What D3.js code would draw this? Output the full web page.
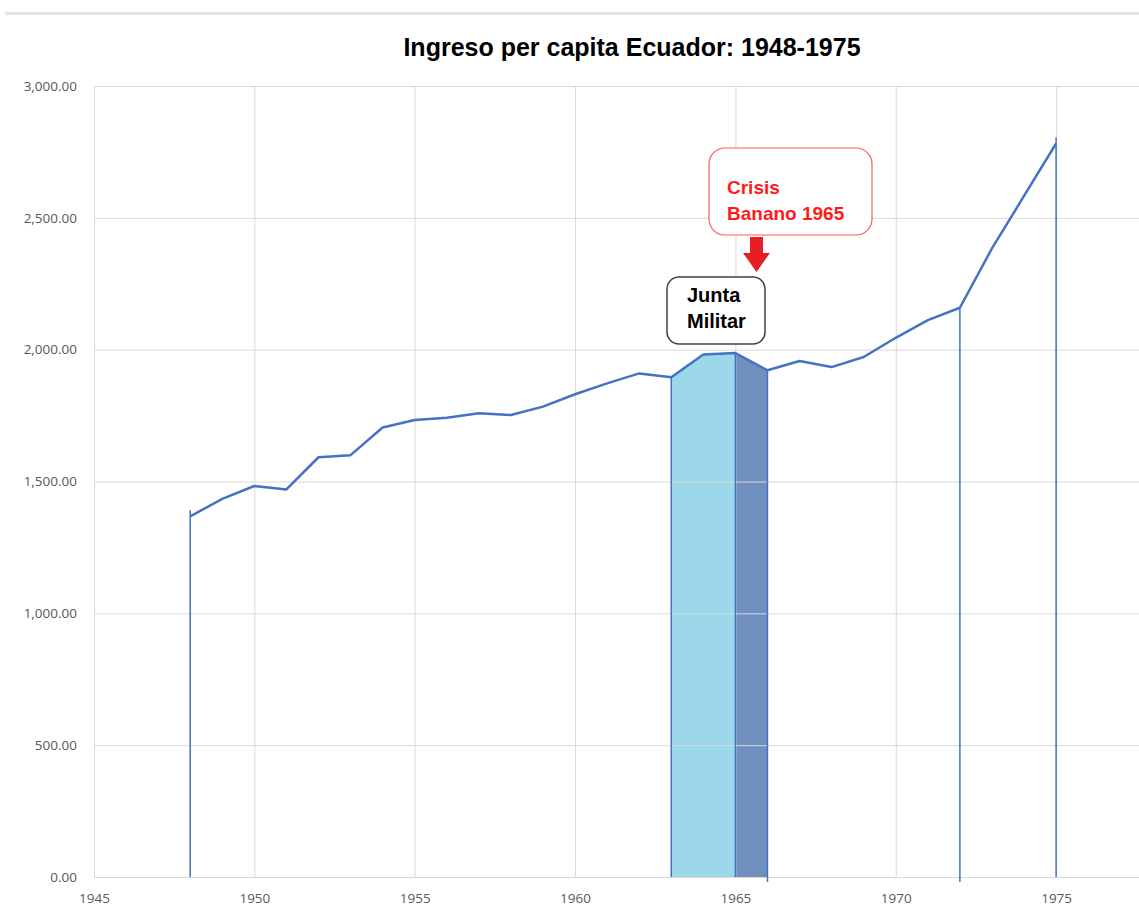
<!DOCTYPE html>
<html>
<head>
<meta charset="utf-8">
<script src="https://cdn.jsdelivr.net/npm/d3@7"></script>
<style>
  body { margin: 0; background: #fff; }
  svg { display: block; }
  .tick text { fill: #595959; font-family: "Open Sans", sans-serif; font-size: 13.5px; }
</style>
</head>
<body>
<div id="chart"></div>
<script>
// data
var years = [1948, 1949, 1950, 1951, 1952, 1953, 1954, 1955, 1956, 1957, 1958, 1959, 1960, 1961,
             1962, 1963, 1964, 1965, 1966, 1967, 1968, 1969, 1970, 1971, 1972, 1973, 1974, 1975];
var ingreso = [1368, 1434, 1483, 1470, 1592, 1600, 1705, 1733, 1742, 1759, 1752, 1784, 1831, 1872,
               1910, 1895, 1982, 1987, 1922, 1957, 1934, 1972, 2045, 2112, 2159, 2384, 2583, 2782];
var yTicks = [0, 500, 1000, 1500, 2000, 2500, 3000];
var xTicks = [1945, 1950, 1955, 1960, 1965, 1970, 1975];
var markerYears = [1948, 1963, 1965, 1966, 1972, 1975];
var juntaRange = [1963, 1965];
var crisisRange = [1965, 1966];

var data = years.map(function(d, i) { return {year: d, value: ingreso[i]}; });

var svgWidth = 1139, svgHeight = 912;
var margin = {top: 86, left: 94, bottom: 35};

var svg = d3.select('#chart').append('svg')
    .attr('width', svgWidth)
    .attr('height', svgHeight);

// scales
var x = d3.scaleLinear().domain([1945, 1980]).range([margin.left, margin.left + 35 * 32.07]);
var y = d3.scaleLinear().domain([0, 3000]).range([svgHeight - margin.bottom, margin.top]);

// thin line on top (window chrome)
svg.append('rect').attr('x', 5).attr('y', 12).attr('width', svgWidth).attr('height', 3).attr('fill', '#e4e4e4');

// title
svg.append('text')
    .attr('x', 632).attr('y', 56)
    .attr('text-anchor', 'middle')
    .attr('font-family', '"Liberation Sans", Arial, sans-serif')
    .attr('font-weight', 'bold')
    .attr('font-size', '25px')
    .attr('fill', '#000')
    .text('Ingreso per capita Ecuador:  1948-1975');

// shaded periods
var area = d3.area()
    .x(d => x(d.year))
    .y0(y(0))
    .y1(d => y(d.value));

svg.append('path')
    .datum(data.filter(d => d.year >= juntaRange[0] && d.year <= juntaRange[1]))
    .attr('d', area)
    .attr('fill', '#9cd8ea');

svg.append('path')
    .datum(data.filter(d => d.year >= crisisRange[0] && d.year <= crisisRange[1]))
    .attr('d', area)
    .attr('fill', '#6f8fbe');

// gridlines
svg.append('g')
    .attr('transform', `translate(${margin.left},0)`)
    .call(d3.axisLeft(y).tickValues(yTicks).tickSize(-(svgWidth - margin.left)).tickPadding(17)
        .tickFormat(d3.format(',.2f')))
    .call(g => g.select('.domain').remove())
    .call(g => g.selectAll('.tick line').attr('stroke', '#d9d9d9'));

svg.append('g')
    .attr('transform', `translate(0,${y(0)})`)
    .call(d3.axisBottom(x).tickValues(xTicks).tickSize(-(y(0) - y(3000))).tickPadding(16)
        .tickFormat(d3.format('d')))
    .call(g => g.select('.domain').remove())
    .call(g => g.selectAll('.tick line').attr('stroke', '#d9d9d9'));

// marker lines
var byYear = {};
data.forEach(d => { byYear[d.year] = d.value; });
svg.append('g').selectAll('line')
    .data(markerYears)
    .enter()
    .append('line')
    .attr('x1', d => x(d)).attr('x2', d => x(d))
    .attr('y1', d => (d == 1966 || d == 1972) ? y(0) + 5 : y(0))
    .attr('y2', d => (d == 1948 || d == 1975) ? y(byYear[d]) - 6 : y(byYear[d]))
    .attr('stroke', '#4472c4')
    .attr('stroke-width', 1.5);

// income line
var line = d3.line()
    .x(d => x(d.year))
    .y(d => y(d.value));

svg.append('path')
    .datum(data)
    .attr('d', line)
    .attr('fill', 'none')
    .attr('stroke', '#4472c4')
    .attr('stroke-width', 2.5)
    .attr('stroke-linejoin', 'round');

// Crisis annotation
var crisis = svg.append('g');
crisis.append('rect')
    .attr('x', 709).attr('y', 148).attr('width', 163).attr('height', 87)
    .attr('rx', 16)
    .attr('fill', '#fff')
    .attr('stroke', '#ff5a5a')
    .attr('stroke-width', 1.2);
crisis.selectAll('text')
    .data(['Crisis', 'Banano 1965'])
    .enter()
    .append('text')
    .attr('x', 727)
    .attr('y', (d, i) => 194 + i * 26)
    .attr('font-family', '"Liberation Sans", Arial, sans-serif')
    .attr('font-weight', 'bold')
    .attr('font-size', '19px')
    .attr('fill', '#ff1a1a')
    .text(d => d);
crisis.append('path')
    .attr('d', 'M750,237 L763,237 L763,253 L770,253 L756.5,272 L743,253 L750,253 Z')
    .attr('fill', '#e81e25');

// Junta annotation
var junta = svg.append('g');
junta.append('rect')
    .attr('x', 667).attr('y', 277).attr('width', 98).attr('height', 67)
    .attr('rx', 12)
    .attr('fill', '#fff')
    .attr('stroke', '#404040')
    .attr('stroke-width', 1.5);
junta.selectAll('text')
    .data(['Junta', 'Militar'])
    .enter()
    .append('text')
    .attr('x', 687)
    .attr('y', (d, i) => 302 + i * 26)
    .attr('font-family', '"Liberation Sans", Arial, sans-serif')
    .attr('font-weight', 'bold')
    .attr('font-size', '20px')
    .attr('fill', '#000')
    .text(d => d);
</script>
</body>
</html>
